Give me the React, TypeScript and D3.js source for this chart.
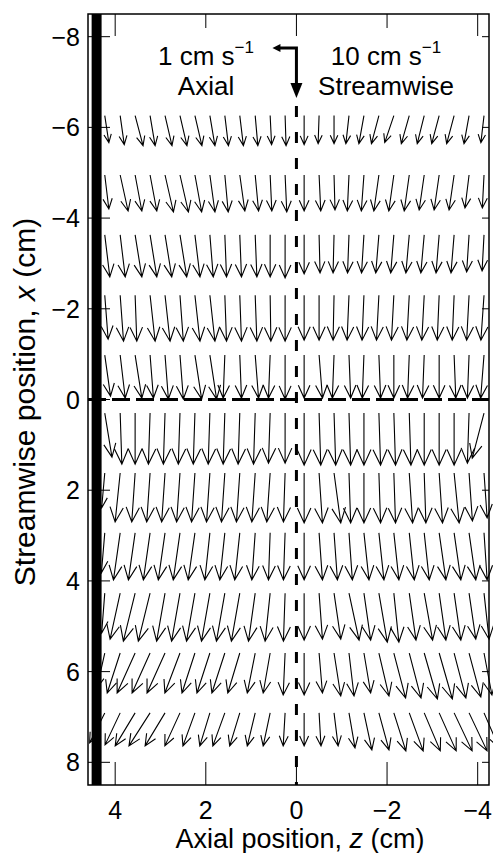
import React from 'react'
import * as d3 from 'd3'

// column positions (axial, cm) and row positions (streamwise, cm) of the vectors
const axialPositions = [4.23, 3.89, 3.56, 3.23, 2.9, 2.57, 2.24, 1.91, 1.58, 1.25, 0.91, 0.58, 0.25,
  -0.17, -0.5, -0.83, -1.16, -1.49, -1.82, -2.15, -2.49, -2.82, -3.15, -3.48, -3.81, -4.14]
const streamwisePositions = [-6.26, -4.95, -3.63, -2.3, -0.98, 0.3, 1.62, 2.94, 4.27, 5.59, 6.91]

// streamwise velocity u (cm/s), one line per row
const streamwiseVelocity = [
  [5.4, 5.8, 6.0, 6.0, 6.0, 6.0, 6.0, 6.0, 6.0, 6.0, 6.0, 5.8, 6.0, 5.8, 5.6, 5.6, 5.6, 5.6, 5.6, 5.4, 5.6, 5.6, 5.6, 5.6, 5.6, 5.4],
  [6.8, 7.2, 7.2, 7.2, 7.4, 7.4, 7.4, 7.4, 7.4, 7.2, 7.2, 7.2, 7.4, 7.2, 7.2, 7.0, 7.2, 7.2, 7.2, 7.2, 7.2, 7.0, 7.0, 7.0, 6.6, 6.6],
  [8.4, 8.4, 8.4, 8.4, 8.4, 8.4, 8.4, 8.4, 8.4, 8.4, 8.4, 8.4, 8.6, 7.8, 7.6, 7.6, 7.6, 7.6, 7.6, 7.6, 7.6, 7.6, 7.6, 7.6, 7.4, 7.2],
  [8.8, 9.2, 9.2, 9.2, 9.2, 9.2, 9.2, 9.2, 9.2, 9.2, 9.2, 9.2, 9.2, 9.0, 9.0, 9.0, 9.0, 9.0, 9.0, 9.0, 9.0, 9.0, 9.0, 9.0, 9.0, 9.0],
  [8.2, 8.6, 8.6, 8.6, 8.8, 8.8, 8.8, 8.8, 8.6, 8.6, 8.6, 8.6, 8.8, 8.6, 8.6, 8.6, 8.6, 8.6, 8.6, 8.6, 8.6, 8.6, 8.6, 8.6, 8.6, 8.6],
  [8.8, 10.2, 10.2, 10.2, 10.2, 10.2, 10.2, 10.2, 10.2, 10.2, 10.2, 10.0, 10.0, 10.4, 10.4, 10.4, 10.4, 10.4, 10.4, 10.4, 10.4, 10.4, 10.4, 10.4, 10.0, 9.0],
  [7.0, 9.8, 9.8, 9.8, 9.8, 9.8, 9.8, 9.8, 9.8, 9.8, 9.8, 9.8, 9.8, 10.0, 10.0, 10.0, 10.0, 10.0, 10.0, 10.0, 10.0, 10.0, 10.0, 10.0, 9.6, 9.0],
  [8.0, 9.4, 9.4, 9.4, 9.4, 9.4, 9.4, 9.4, 9.4, 9.4, 9.4, 9.4, 9.4, 9.4, 9.4, 9.4, 9.4, 9.4, 9.4, 9.4, 9.4, 9.4, 9.4, 9.4, 9.4, 9.4],
  [8.0, 9.2, 9.6, 9.6, 9.6, 9.6, 9.6, 9.6, 9.6, 9.6, 9.6, 9.6, 9.6, 9.4, 9.2, 9.2, 9.4, 9.4, 9.8, 9.8, 9.4, 9.4, 9.4, 9.4, 9.2, 9.2],
  [7.0, 8.0, 8.0, 8.0, 8.0, 8.0, 8.0, 8.0, 8.0, 8.0, 8.0, 8.0, 8.4, 8.4, 8.0, 8.6, 8.6, 8.0, 8.6, 9.0, 9.0, 9.2, 9.2, 9.0, 8.8, 8.4],
  [6.0, 6.4, 6.6, 6.6, 6.6, 6.6, 6.6, 6.6, 6.6, 6.6, 6.6, 6.6, 6.6, 6.6, 6.6, 6.6, 7.0, 7.4, 7.4, 7.6, 7.6, 7.6, 7.6, 7.6, 7.6, 7.0],
]

// axial velocity w (cm/s), positive towards +z
const axialVelocity = [
  [-0.17, -0.17, -0.33, -0.21, -0.29, -0.29, -0.29, -0.21, -0.15, -0.15, -0.11, -0.06, -0.04, 0, 0.04, 0, 0.13, 0.21, 0.31, 0.38, 0.33, 0.29, 0.31, 0.31, 0.21, 0.13],
  [-0.17, -0.33, -0.28, -0.28, -0.35, -0.35, -0.28, -0.21, -0.14, -0.21, -0.14, -0.07, -0.07, 0, -0.07, -0.04, 0.07, 0.11, 0.21, 0.21, 0.21, 0.21, 0.21, 0.21, 0.17, 0.07],
  [-0.21, -0.21, -0.28, -0.28, -0.28, -0.28, -0.21, -0.14, -0.07, -0.07, -0.07, 0, 0, 0, -0.04, 0.04, 0.06, 0.1, 0.13, 0.13, 0.14, 0.14, 0.13, 0.13, 0.1, 0.08],
  [-0.14, -0.14, -0.07, -0.21, -0.21, -0.14, -0.21, -0.21, -0.07, -0.07, -0.07, -0.03, 0, 0, 0, 0.04, 0.08, 0.08, 0.1, 0.1, 0.1, 0.1, 0.08, 0.08, 0.1, 0.13],
  [-0.24, -0.21, -0.28, -0.14, -0.14, -0.14, -0.28, -0.28, 0.07, -0.07, -0.14, 0.07, 0, 0, -0.14, 0.07, -0.07, 0.07, -0.07, 0, 0.07, 0.07, 0, -0.07, 0.07, 0.14],
  [-0.3, -0.07, 0, 0.07, 0.07, 0.07, 0.07, 0.07, 0.07, 0.07, 0.07, 0.07, 0, 0, -0.07, -0.07, -0.07, 0, -0.07, -0.07, -0.07, 0, 0, 0, 0.07, 0.49],
  [0.13, 0.21, 0.14, 0.14, 0.14, 0.14, 0.14, 0.14, 0.14, 0.14, 0.14, 0.14, 0.07, 0, -0.14, -0.28, -0.07, 0, -0.07, -0.07, -0.14, -0.07, -0.14, -0.21, -0.14, -0.13],
  [0.14, 0.28, 0.28, 0.28, 0.28, 0.28, 0.28, 0.21, 0.21, 0.21, 0.14, 0.07, 0.07, 0, -0.14, -0.14, -0.14, -0.21, -0.21, -0.21, -0.21, -0.21, -0.28, -0.28, -0.28, -0.13],
  [0.13, 0.42, 0.49, 0.49, 0.35, 0.35, 0.35, 0.35, 0.35, 0.35, 0.28, 0.21, 0.07, 0, -0.14, -0.28, -0.42, -0.28, -0.35, -0.21, -0.28, -0.35, -0.28, -0.28, -0.28, -0.21],
  [0.33, 0.54, 0.75, 0.75, 0.75, 0.63, 0.54, 0.54, 0.54, 0.5, 0.33, 0.29, 0.08, 0, -0.14, -0.28, -0.21, -0.28, -0.42, -0.49, -0.49, -0.55, -0.55, -0.49, -0.49, -0.33],
  [0.63, 0.63, 0.83, 0.88, 0.83, 0.63, 0.5, 0.42, 0.5, 0.42, 0.33, 0.29, 0.08, 0, -0.08, -0.17, -0.25, -0.33, -0.42, -0.5, -0.58, -0.67, -0.71, -0.75, -0.75, -0.63],
]

const axialTicks = [4, 2, 0, -2, -4]
const streamwiseTicks = [-8, -6, -4, -2, 0, 2, 4, 6, 8]
const wall = [4.3, 4.52]          // solid wall, axial extent (cm)
const legendAxial = 1             // cm/s
const legendStreamwise = 10       // cm/s
const legendAt = [0, -7.75]       // (z, x) of legend arrow corner

const W = 493
const H = 853
const font = '"Liberation Sans", Arial, Helvetica, sans-serif'

const fmt = (v: number) => (v < 0 ? '\u2212' + Math.abs(v) : String(v))

export default function App() {
  const zScale = d3.scaleLinear().domain([4.6, -4.25]).range([88, 489])
  const xScale = d3.scaleLinear().domain([-8.5, 8.5]).range([14, 785])
  // vector scales (px per cm/s); positive axial points to +z, i.e. left
  const axialLen = d3.scaleLinear().domain([0, 1]).range([0, -24])
  const streamLen = d3.scaleLinear().domain([0, 10]).range([0, 50])

  const [x0, x1] = zScale.range()
  const [y0, y1] = xScale.range()

  const arrows: string[] = []
  streamwisePositions.forEach((xp, i) => {
    axialPositions.forEach((zp, j) => {
      const sx = zScale(zp), sy = xScale(xp)
      const dx = axialLen(axialVelocity[i][j]), dy = streamLen(streamwiseVelocity[i][j])
      const tx = sx + dx, ty = sy + dy
      const a = 0.3, b = 0.45
      const p = d3.path()
      p.moveTo(sx, sy)
      p.lineTo(tx, ty)
      p.moveTo(tx - a * (dx + b * dy), ty - a * (dy - b * dx))
      p.lineTo(tx, ty)
      p.lineTo(tx - a * (dx - b * dy), ty - a * (dy + b * dx))
      arrows.push(p.toString())
    })
  })

  // legend arrows
  const cx = zScale(legendAt[0]), cy = xScale(legendAt[1])
  const hTip = cx + axialLen(legendAxial)
  const vTip = cy + streamLen(legendStreamwise)

  return (
    <svg width={W} height={H} style={{position: 'absolute', left: 0, top: 0, background: '#fff'}}
         fontFamily={font}>
      <rect x={0} y={0} width={W} height={H} fill="#fff"/>

      {/* vectors */}
      <g fill="none" stroke="#000" strokeWidth={1.1}>
        {arrows.map((d, i) => <path key={i} d={d}/>)}
      </g>

      {/* wall */}
      <rect x={zScale(wall[1])} y={y0} width={zScale(wall[0]) - zScale(wall[1])} height={y1 - y0} fill="#000"/>

      {/* reference lines */}
      <line x1={x0} x2={x1} y1={xScale(0)} y2={xScale(0)} stroke="#000" strokeWidth={3} strokeDasharray="18,6"/>
      <line x1={zScale(0)} x2={zScale(0)} y1={106} y2={y1} stroke="#000" strokeWidth={3} strokeDasharray="11,15"/>

      {/* legend */}
      <path d={`M${hTip + 7},${cy}L${cx},${cy}L${cx},${vTip - 14}`} fill="none" stroke="#000" strokeWidth={3}
            strokeLinejoin="miter"/>
      <path d={`M${hTip},${cy}L${hTip + 8},${cy - 4}L${hTip + 8},${cy + 4}Z`} fill="#000"/>
      <path d={`M${cx},${vTip}L${cx - 6},${vTip - 15}L${cx + 6},${vTip - 15}Z`} fill="#000"/>
      <g fontSize={26} textAnchor="middle" fill="#000">
        <text x={206} y={65}>1 cm s<tspan fontSize={17} dy={-12}>{'\u22121'}</tspan></text>
        <text x={206} y={95}>Axial</text>
        <text x={386} y={65}>10 cm s<tspan fontSize={17} dy={-12}>{'\u22121'}</tspan></text>
        <text x={386} y={95}>Streamwise</text>
      </g>

      {/* frame and ticks */}
      <rect x={x0} y={y0} width={x1 - x0} height={y1 - y0} fill="none" stroke="#000" strokeWidth={1.5}/>
      <g stroke="#000" strokeWidth={1}>
        {axialTicks.map(t => (
          <g key={t}>
            <line x1={zScale(t)} x2={zScale(t)} y1={y1} y2={y1 - 23}/>
            <line x1={zScale(t)} x2={zScale(t)} y1={y0} y2={y0 + (Math.abs(t) === 2 ? 14 : 22)}/>
          </g>
        ))}
        {streamwiseTicks.map(t => (
          <g key={t}>
            <line x1={x0} x2={x0 + 22} y1={xScale(t)} y2={xScale(t)}/>
            <line x1={x1} x2={x1 - 7} y1={xScale(t)} y2={xScale(t)}/>
          </g>
        ))}
      </g>
      <g fontSize={25} fill="#000">
        {axialTicks.map(t => (
          <text key={t} x={zScale(t)} y={819} textAnchor="middle">{fmt(t)}</text>
        ))}
        {streamwiseTicks.map(t => (
          <text key={t} x={80} y={xScale(t) + 9} textAnchor="end">{fmt(t)}</text>
        ))}
      </g>

      {/* axis titles */}
      <text x={300} y={848} fontSize={27} textAnchor="middle" fill="#000">
        Axial position, <tspan fontStyle="italic">z</tspan> (cm)
      </text>
      <text transform="translate(35,402) rotate(-90)" fontSize={30} textAnchor="middle" fill="#000">
        Streamwise position, <tspan fontStyle="italic">x</tspan> (cm)
      </text>
    </svg>
  )
}
